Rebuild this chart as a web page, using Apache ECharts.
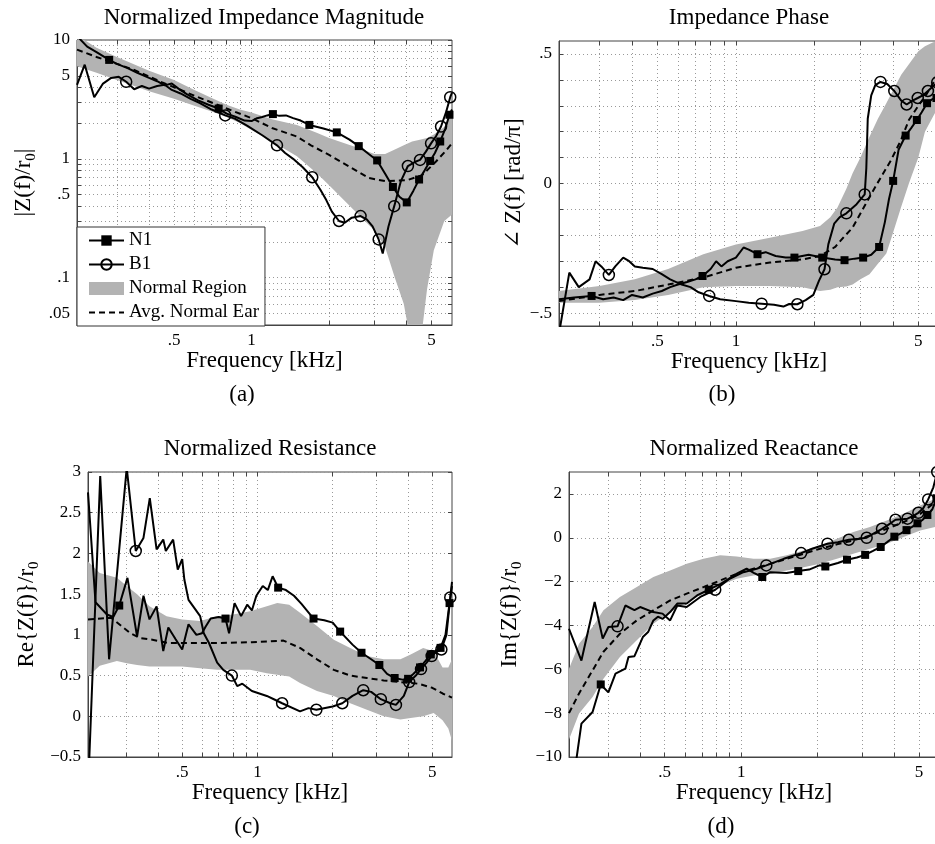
<!DOCTYPE html>
<html><head><meta charset="utf-8">
<script src="https://cdn.jsdelivr.net/npm/echarts@6/dist/echarts.min.js"></script>
<style>html,body{margin:0;padding:0;background:#fff}#c{width:935px;height:844px}</style>
</head><body><div id="c"></div>
<script>
// ---------- tick values / labels ----------
const freqTickVals = [0.5, 1, 5];
const freqTickLabels = ['.5', '1', '5'];
const freqGridVals = [0.3,0.4,0.5,0.6,0.7,0.8,0.9,1,2,3,4,5];
const magTickVals = [0.05,0.1,0.5,1,5,10];
const magTickLabels = ['.05','.1','.5','1','5','10'];
const magGridVals = [0.04,0.05,0.06,0.07,0.08,0.09,0.1,0.2,0.3,0.4,0.5,0.6,0.7,0.8,0.9,1,2,3,4,5,6,7,8,9,10];
const phTickVals = [-0.5,0,0.5];
const phTickLabels = ['\u2212.5','0','.5'];
const phGridVals = [-0.5,-0.4,-0.3,-0.2,-0.1,0,0.1,0.2,0.3,0.4,0.5];
const reTickVals = [-0.5,0,0.5,1,1.5,2,2.5,3];
const reTickLabels = ['\u22120.5','0','0.5','1','1.5','2','2.5','3'];
const imTickVals = [-10,-8,-6,-4,-2,0,2];
const imTickLabels = ['\u221210','\u22128','\u22126','\u22124','\u22122','0','2'];

// marker frequencies (kHz)
const n1MarkF = [0.28,0.745,1.21,1.676,2.142,2.607,3.073,3.538,4.004,4.47,4.935,5.4,5.866];
const b1MarkF = [0.326,0.79,1.255,1.72,2.185,2.65,3.115,3.58,4.045,4.51,4.975,5.44,5.905];

// ---------- (a) magnitude ----------
const magN1F = [0.21,0.23,0.25,0.28,0.30,0.33,0.36,0.40,0.43,0.46,0.49,0.52,0.56,0.62,0.68,0.745,0.80,0.87,0.94,1.0,1.05,1.1,1.15,1.21,1.28,1.36,1.45,1.55,1.676,1.9,2.142,2.4,2.607,2.85,3.073,3.3,3.538,3.75,4.004,4.25,4.47,4.7,4.935,5.15,5.4,5.65,5.866,6.0];
const magN1V = [10.8,8.8,7.9,6.8,6.3,5.8,5.3,4.8,4.5,4.15,4.3,3.9,3.5,3.1,2.85,2.65,2.4,2.25,2.1,2.08,2.2,2.25,2.32,2.38,2.3,2.32,2.2,2.1,1.93,1.8,1.67,1.45,1.28,1.1,0.97,0.75,0.58,0.48,0.43,0.54,0.67,0.8,0.96,1.12,1.4,1.8,2.35,2.6];
const magB1F = [0.21,0.225,0.245,0.265,0.285,0.305,0.326,0.35,0.375,0.40,0.43,0.46,0.49,0.53,0.58,0.63,0.70,0.79,0.86,0.96,1.1,1.255,1.35,1.45,1.58,1.72,1.85,1.95,2.05,2.185,2.3,2.45,2.65,2.8,2.95,3.115,3.23,3.4,3.58,3.8,4.045,4.3,4.51,4.75,4.975,5.2,5.44,5.7,5.905,6.0];
const magB1V = [4.2,6.2,3.3,4.3,4.8,4.9,4.45,3.85,4.1,3.9,4.1,4.2,3.8,3.55,3.2,2.95,2.6,2.32,2.18,1.9,1.58,1.3,1.12,1.0,0.85,0.7,0.55,0.45,0.36,0.3,0.29,0.32,0.33,0.31,0.27,0.21,0.16,0.27,0.4,0.65,0.87,0.94,0.98,1.15,1.35,1.55,1.87,2.5,3.3,3.6];
const magAvgF = [0.21,0.25,0.30,0.35,0.45,0.6,0.8,1.0,1.2,1.5,1.7,2.0,2.4,2.85,3.3,4.0,4.6,5.2,5.7,6.0];
const magAvgV = [8.3,7.2,6.3,5.6,4.4,3.4,2.65,2.2,1.82,1.54,1.3,1.08,0.86,0.69,0.65,0.66,0.73,0.95,1.18,1.35];
const magBandF = [0.21,0.25,0.3,0.4,0.5,0.6,0.7,0.8,0.9,1.0,1.2,1.5,1.8,2.0,2.5,3.0,3.3,3.6,3.9,4.2,4.5,4.8,5.1,5.6,6.0];
const magBandHi = [11,8.6,7.2,5.5,4.6,3.8,3.25,2.85,2.6,2.45,2.15,1.93,1.65,1.5,1.27,1.1,1.1,1.2,1.3,1.4,1.45,1.5,1.6,1.85,2.6];
const magBandLo = [6.0,5.3,4.6,3.7,3.2,2.8,2.5,2.25,2.0,1.75,1.4,1.05,0.75,0.6,0.37,0.25,0.18,0.1,0.06,0.025,0.025,0.08,0.17,0.3,0.34];

// ---------- (b) phase ----------
const phN1F = [0.21,0.24,0.28,0.31,0.34,0.37,0.40,0.44,0.48,0.52,0.56,0.60,0.65,0.70,0.745,0.80,0.84,0.88,0.93,1.0,1.07,1.12,1.21,1.3,1.42,1.55,1.676,1.9,2.142,2.4,2.607,2.85,3.073,3.3,3.538,3.72,3.86,4.004,4.2,4.47,4.7,4.935,5.15,5.4,5.65,5.866,6.0];
const phN1V = [-0.447,-0.44,-0.434,-0.447,-0.44,-0.45,-0.43,-0.44,-0.425,-0.415,-0.40,-0.39,-0.38,-0.37,-0.357,-0.33,-0.30,-0.32,-0.30,-0.286,-0.247,-0.255,-0.273,-0.265,-0.28,-0.286,-0.286,-0.275,-0.286,-0.293,-0.296,-0.29,-0.286,-0.275,-0.245,-0.15,-0.06,0.01,0.13,0.185,0.215,0.245,0.275,0.31,0.325,0.33,0.34];
const phB1F = [0.21,0.23,0.25,0.275,0.29,0.305,0.326,0.345,0.37,0.39,0.41,0.44,0.48,0.52,0.56,0.62,0.67,0.72,0.79,0.87,1.0,1.12,1.255,1.4,1.52,1.6,1.72,1.85,1.98,2.08,2.185,2.26,2.38,2.5,2.65,2.9,3.115,3.16,3.2,3.3,3.42,3.58,3.8,4.045,4.3,4.51,4.75,4.975,5.2,5.44,5.7,5.905,6.0];
const phB1V = [-0.58,-0.344,-0.40,-0.37,-0.30,-0.32,-0.353,-0.32,-0.286,-0.30,-0.32,-0.325,-0.33,-0.35,-0.37,-0.39,-0.40,-0.42,-0.434,-0.447,-0.454,-0.46,-0.464,-0.468,-0.475,-0.465,-0.466,-0.45,-0.43,-0.376,-0.331,-0.235,-0.155,-0.13,-0.115,-0.08,-0.042,0.06,0.25,0.34,0.38,0.392,0.384,0.357,0.32,0.305,0.32,0.33,0.34,0.357,0.375,0.39,0.40];
const phAvgF = [0.21,0.3,0.41,0.55,0.75,1.0,1.35,1.8,2.1,2.4,2.6,2.8,3.1,3.48,3.93,4.3,4.6,5.0,5.4,5.8,6.0];
const phAvgV = [-0.454,-0.43,-0.415,-0.39,-0.363,-0.325,-0.305,-0.293,-0.28,-0.245,-0.205,-0.17,-0.09,0.0,0.09,0.17,0.245,0.3,0.348,0.4,0.43];
const phBandF = [0.21,0.3,0.41,0.55,0.75,1.0,1.35,1.8,2.1,2.3,2.45,2.65,2.8,3.0,3.25,3.5,3.77,4.0,4.3,4.6,5.0,5.3,5.7,6.0];
const phBandHi = [-0.415,-0.396,-0.37,-0.33,-0.273,-0.235,-0.209,-0.183,-0.164,-0.13,-0.093,-0.02,0.04,0.10,0.18,0.25,0.31,0.36,0.42,0.46,0.51,0.53,0.545,0.55];
const phBandLo = [-0.46,-0.46,-0.45,-0.43,-0.40,-0.396,-0.396,-0.40,-0.415,-0.41,-0.40,-0.398,-0.39,-0.37,-0.35,-0.31,-0.27,-0.19,-0.09,0.0,0.1,0.2,0.26,0.3];

// ---------- (c) resistance ----------
const reN1F = [0.21,0.225,0.25,0.265,0.28,0.302,0.33,0.35,0.37,0.395,0.42,0.44,0.47,0.5,0.53,0.57,0.6,0.62,0.65,0.70,0.745,0.77,0.81,0.86,0.91,0.95,0.99,1.05,1.1,1.15,1.21,1.3,1.4,1.5,1.676,1.85,2.0,2.142,2.4,2.607,2.85,3.073,3.3,3.538,3.8,4.004,4.2,4.47,4.7,4.935,5.15,5.4,5.65,5.866,6.0];
const reN1V = [2.75,1.4,1.25,1.22,1.36,1.7,0.98,1.48,1.19,1.35,0.8,1.09,0.95,0.82,1.13,1.0,1.02,1.1,1.2,1.22,1.2,1.02,1.39,1.23,1.37,1.3,1.48,1.6,1.55,1.72,1.58,1.55,1.48,1.38,1.2,1.18,1.15,1.04,0.88,0.78,0.7,0.63,0.52,0.47,0.45,0.46,0.52,0.6,0.68,0.76,0.8,0.84,1.0,1.39,1.6];
const reB1F = [0.212,0.235,0.255,0.30,0.326,0.35,0.371,0.395,0.42,0.43,0.46,0.48,0.50,0.51,0.53,0.59,0.61,0.64,0.69,0.73,0.79,0.83,0.87,0.95,1.09,1.18,1.255,1.48,1.6,1.72,2.0,2.185,2.4,2.65,2.85,3.115,3.4,3.58,3.85,4.045,4.3,4.51,4.75,4.975,5.2,5.44,5.7,5.905,6.0];
const reB1V = [-0.6,2.95,0.7,3.05,2.03,2.19,2.68,2.05,2.17,2.03,2.17,1.8,1.93,1.68,1.43,1.23,1.02,0.9,0.66,0.57,0.5,0.37,0.4,0.31,0.25,0.2,0.16,0.06,0.1,0.08,0.12,0.16,0.25,0.32,0.3,0.21,0.16,0.14,0.25,0.42,0.5,0.58,0.66,0.74,0.79,0.82,1.0,1.46,1.65];
const reAvgF = [0.21,0.26,0.28,0.31,0.34,0.38,0.44,0.69,0.95,1.27,1.48,1.73,2.02,2.35,2.74,3.2,3.73,4.4,5.0,5.5,6.0];
const reAvgV = [1.19,1.21,1.13,1.02,0.96,0.94,0.9,0.9,0.91,0.93,0.84,0.7,0.57,0.5,0.47,0.44,0.42,0.4,0.35,0.28,0.23];
const reBandF = [0.21,0.234,0.274,0.3,0.33,0.37,0.433,0.5,0.59,0.69,0.8,0.935,1.09,1.2,1.34,1.48,1.73,2.02,2.35,2.74,3.2,3.73,4.1,4.6,5.07,5.5,5.8,6.0];
const reBandHi = [1.9,1.76,1.7,1.6,1.5,1.35,1.23,1.19,1.17,1.23,1.25,1.29,1.35,1.39,1.37,1.27,1.11,0.94,0.84,0.74,0.7,0.7,0.76,0.84,0.8,0.6,0.6,0.7];
const reBandLo = [0.49,0.62,0.68,0.65,0.63,0.61,0.61,0.61,0.59,0.57,0.57,0.57,0.53,0.51,0.49,0.41,0.31,0.25,0.16,0.08,0.0,-0.04,-0.02,0.0,0.04,-0.05,-0.15,-0.3];

// ---------- (d) reactance ----------
const imN1F = [0.21,0.235,0.26,0.28,0.30,0.32,0.35,0.36,0.38,0.41,0.43,0.451,0.47,0.49,0.525,0.56,0.61,0.67,0.745,0.83,0.96,1.05,1.12,1.21,1.3,1.51,1.676,1.85,2.04,2.142,2.4,2.607,2.85,3.073,3.3,3.538,3.75,4.004,4.25,4.47,4.7,4.935,5.15,5.4,5.65,5.866,6.0];
const imN1V = [-12.5,-8.48,-7.95,-6.69,-7.05,-6.2,-5.97,-5.44,-5.4,-4.53,-4.3,-3.77,-3.6,-3.7,-3.39,-3.0,-3.0,-2.63,-2.37,-2.1,-1.64,-1.41,-1.6,-1.79,-1.57,-1.61,-1.52,-1.45,-1.25,-1.31,-1.15,-1.0,-0.9,-0.78,-0.6,-0.42,-0.2,0.05,0.2,0.35,0.5,0.66,0.8,1.04,1.3,1.8,2.3];
const imB1F = [0.21,0.235,0.265,0.285,0.30,0.326,0.35,0.38,0.40,0.45,0.49,0.525,0.56,0.61,0.69,0.79,0.9,1.02,1.15,1.255,1.47,1.72,1.9,2.185,2.4,2.65,2.9,3.115,3.3,3.58,3.8,4.045,4.3,4.51,4.75,4.975,5.2,5.44,5.7,5.905,6.0];
const imB1V = [-4.15,-5.6,-2.93,-4.6,-4.07,-4.04,-3.09,-3.3,-3.16,-3.39,-3.46,-3.77,-3.09,-3.16,-2.7,-2.37,-1.87,-1.57,-1.41,-1.26,-0.96,-0.7,-0.5,-0.27,-0.2,-0.09,-0.05,0.0,0.18,0.41,0.6,0.82,0.85,0.87,1.0,1.14,1.35,1.75,2.3,3.0,3.6];
const imAvgF = [0.21,0.23,0.26,0.287,0.333,0.388,0.451,0.525,0.61,0.71,0.826,0.96,1.117,1.3,1.51,1.76,2.04,2.38,2.76,3.21,3.74,4.35,5.06,5.8,6.0];
const imAvgV = [-8.0,-7.1,-6.05,-5.2,-4.38,-3.77,-3.31,-2.86,-2.55,-2.25,-1.95,-1.64,-1.41,-1.19,-0.96,-0.73,-0.5,-0.3,-0.12,0.1,0.41,0.71,1.09,1.63,1.8];
const imBandF = [0.21,0.23,0.26,0.287,0.333,0.388,0.451,0.525,0.61,0.71,0.826,0.96,1.117,1.3,1.51,1.76,2.04,2.38,2.76,3.21,3.74,4.35,5.06,5.8,6.0];
const imBandHi = [-5.97,-4.83,-4.07,-3.31,-2.7,-2.25,-1.79,-1.49,-1.19,-0.96,-0.8,-0.85,-0.96,-0.96,-0.8,-0.58,-0.35,-0.05,0.26,0.49,0.79,1.09,1.47,1.78,1.85];
const imBandLo = [-9.2,-8.02,-7.26,-6.43,-5.44,-4.68,-3.92,-3.39,-2.93,-2.55,-2.17,-1.87,-1.72,-1.64,-1.49,-1.34,-1.19,-0.96,-0.73,-0.5,-0.27,0.03,0.33,0.49,0.55];

// ---------- styling ----------
const SERIF = '"Liberation Serif", "DejaVu Serif", serif';
const GRAY = '#b3b3b3';
const AXC = '#444';

function fmt(vals, labels) {
  return function (v) {
    for (let i = 0; i < vals.length; i++) {
      if (Math.abs(v - vals[i]) <= 1e-6 + 1e-4 * Math.abs(vals[i])) return labels[i];
    }
    return '';
  };
}
function pairs(F, V) { return F.map((f, i) => [f, V[i]]); }
function marked(F, V, marks) {
  return F.map((f, i) => {
    const it = { value: [f, V[i]] };
    if (marks.indexOf(f) < 0) it.symbol = 'none';
    return it;
  });
}

const grids = [
  { left: 77, top: 40, width: 375, height: 285 },
  { left: 559, top: 41, width: 380, height: 285 },
  { left: 88, top: 472, width: 364, height: 285 },
  { left: 569, top: 472, width: 370, height: 285 }
].map(g => Object.assign({ show: true, borderColor: AXC, borderWidth: 1, backgroundColor: '#fff', containLabel: false, outerBoundsMode: 'none' }, g));

function xAx(gi, gap) {
  return {
    type: 'log', logBase: 10, gridIndex: gi, min: 0.21, max: 6, position: 'bottom',
    name: 'Frequency [kHz]', nameLocation: 'middle', nameGap: gap,
    nameTextStyle: { fontFamily: SERIF, fontSize: 23, color: '#000' },
    axisLine: { show: true, onZero: false, lineStyle: { color: AXC, width: 1 } },
    axisTick: { show: true, inside: true, length: 4, customValues: freqGridVals, lineStyle: { color: AXC } },
    axisLabel: { show: true, customValues: freqTickVals, formatter: fmt(freqTickVals, freqTickLabels), fontFamily: SERIF, fontSize: 17, color: '#000', margin: 7 },
    splitLine: { show: true, lineStyle: { color: '#999', width: 1, type: [1, 3] } },
    minorTick: { show: false }, minorSplitLine: { show: false }
  };
}
function xAxTop(gi) {
  return {
    type: 'log', logBase: 10, gridIndex: gi, min: 0.21, max: 6, position: 'top',
    axisLine: { show: false, onZero: false },
    axisTick: { show: true, inside: true, length: 4, customValues: freqGridVals, lineStyle: { color: AXC } },
    axisLabel: { show: false }, splitLine: { show: false }, minorTick: { show: false }
  };
}
function yAx(gi, type, min, max, gridVals, tickVals, tickLabels, name, gap) {
  return {
    type: type, gridIndex: gi, min: min, max: max, position: 'left',
    name: name, nameLocation: 'middle', nameGap: gap, nameRotate: 90,
    nameTextStyle: { fontFamily: SERIF, fontSize: 23, color: '#000',
      rich: { sub: { fontFamily: SERIF, fontSize: 15, color: '#000', padding: [16, 0, 0, 0], verticalAlign: 'bottom' } } },
    axisLine: { show: true, onZero: false, lineStyle: { color: AXC, width: 1 } },
    axisTick: { show: true, inside: true, length: 4, customValues: gridVals, lineStyle: { color: AXC } },
    axisLabel: { show: true, customValues: tickVals, formatter: fmt(tickVals, tickLabels), fontFamily: SERIF, fontSize: 17, color: '#000', margin: 7 },
    splitLine: { show: true, lineStyle: { color: '#999', width: 1, type: [1, 3] } },
    minorTick: { show: false }, minorSplitLine: { show: false }
  };
}
function yAxRight(gi, type, min, max, gridVals) {
  return {
    type: type, gridIndex: gi, min: min, max: max, position: 'right',
    axisLine: { show: false, onZero: false },
    axisTick: { show: true, inside: true, length: 4, customValues: gridVals, lineStyle: { color: AXC } },
    axisLabel: { show: false }, splitLine: { show: false }, minorTick: { show: false }
  };
}

function bandRenderer(F, lo, hi) {
  return function (params, api) {
    if (params.dataIndex !== 0) return null;
    const pts = [];
    for (let i = 0; i < F.length; i++) pts.push(api.coord([F[i], hi[i]]));
    for (let i = F.length - 1; i >= 0; i--) pts.push(api.coord([F[i], lo[i]]));
    const cs = params.coordSys;
    return {
      type: 'polygon',
      shape: { points: pts },
      style: { fill: GRAY, stroke: null },
      clipPath: { type: 'rect', shape: { x: cs.x, y: cs.y, width: cs.width, height: cs.height } }
    };
  };
}

function panelSeries(gi, bandF, lo, hi, avgF, avgV, n1F, n1V, b1F, b1V) {
  const common = { xAxisIndex: gi, yAxisIndex: gi, animation: false, emphasis: { disabled: true }, silent: true };
  return [
    Object.assign({ type: 'custom', name: 'Normal Region', renderItem: bandRenderer(bandF, lo, hi),
      data: bandF.map((f, i) => [f, lo[i], hi[i]]), encode: { x: 0, y: [1, 2] },
      itemStyle: { color: GRAY }, z: 1 }, common),
    Object.assign({ type: 'line', name: 'Avg. Normal Ear', data: pairs(avgF, avgV), symbol: 'none',
      lineStyle: { color: '#000', width: 2, type: [6, 4] }, itemStyle: { color: 'rgba(0,0,0,0)' }, z: 3 }, common),
    Object.assign({ type: 'line', name: 'N1', data: marked(n1F, n1V, n1MarkF), symbol: 'rect', symbolSize: 8,
      lineStyle: { color: '#000', width: 2 }, itemStyle: { color: '#000' }, z: 4 }, common),
    Object.assign({ type: 'line', name: 'B1', data: marked(b1F, b1V, b1MarkF), symbol: 'circle', symbolSize: 11,
      lineStyle: { color: '#000', width: 2 }, itemStyle: { color: 'rgba(255,255,255,0)', borderColor: '#000', borderWidth: 1.5 }, z: 5 }, common)
  ];
}

function txt(x, y, s, size, rot) {
  return { type: 'text', x: x, y: y, rotation: rot || 0, silent: true, z: 10,
    style: { text: s, font: size + 'px ' + SERIF, fill: '#000', align: 'center', verticalAlign: 'middle' } };
}

const option = {
  backgroundColor: '#fff',
  animation: false,
  grid: grids,
  xAxis: [xAx(0, 20), xAx(1, 20), xAx(2, 22), xAx(3, 22), xAxTop(0), xAxTop(1), xAxTop(2), xAxTop(3)],
  yAxis: [
    yAx(0, 'log', 0.04, 10, magGridVals, magTickVals, magTickLabels, '|Z(f)/r{sub|0}|', 38),
    yAx(1, 'value', -0.55, 0.55, phGridVals, phTickVals, phTickLabels, '\u2220 Z(f) [rad/\u03c0]', 34),
    yAx(2, 'value', -0.5, 3, reTickVals, reTickVals, reTickLabels, 'Re{Z(f)}/r{sub|0}', 46),
    yAx(3, 'value', -10, 3, imTickVals, imTickVals, imTickLabels, 'Im{Z(f)}/r{sub|0}', 44),
    yAxRight(0, 'log', 0.04, 10, magGridVals),
    yAxRight(1, 'value', -0.55, 0.55, phGridVals),
    yAxRight(2, 'value', -0.5, 3, reTickVals),
    yAxRight(3, 'value', -10, 3, imTickVals)
  ],
  legend: {
    left: 77, top: 227, orient: 'vertical', selectedMode: false,
    backgroundColor: '#fff', borderColor: '#333', borderWidth: 1, borderRadius: 0,
    padding: [4, 6, 4, 11], itemGap: 5, itemWidth: 35, itemHeight: 13,
    textStyle: { fontFamily: SERIF, fontSize: 19, color: '#000' },
    data: [
      { name: 'N1' },
      { name: 'B1' },
      { name: 'Normal Region', icon: 'rect', itemStyle: { color: GRAY } },
      { name: 'Avg. Normal Ear' }
    ]
  },
  graphic: [
    txt(264, 18, 'Normalized Impedance Magnitude', 23),
    txt(749, 18, 'Impedance Phase', 23),
    txt(270, 449, 'Normalized Resistance', 23),
    txt(754, 449, 'Normalized Reactance', 23),
    txt(242, 395, '(a)', 23),
    txt(722, 395, '(b)', 23),
    txt(247, 827, '(c)', 23),
    txt(721, 827, '(d)', 23)
  ],
  series: [].concat(
    panelSeries(0, magBandF, magBandLo, magBandHi, magAvgF, magAvgV, magN1F, magN1V, magB1F, magB1V),
    panelSeries(1, phBandF, phBandLo, phBandHi, phAvgF, phAvgV, phN1F, phN1V, phB1F, phB1V),
    panelSeries(2, reBandF, reBandLo, reBandHi, reAvgF, reAvgV, reN1F, reN1V, reB1F, reB1V),
    panelSeries(3, imBandF, imBandLo, imBandHi, imAvgF, imAvgV, imN1F, imN1V, imB1F, imB1V)
  )
};

const chart = echarts.init(document.getElementById('c'), null, { renderer: 'canvas' });
chart.setOption(option);
</script></body></html>
